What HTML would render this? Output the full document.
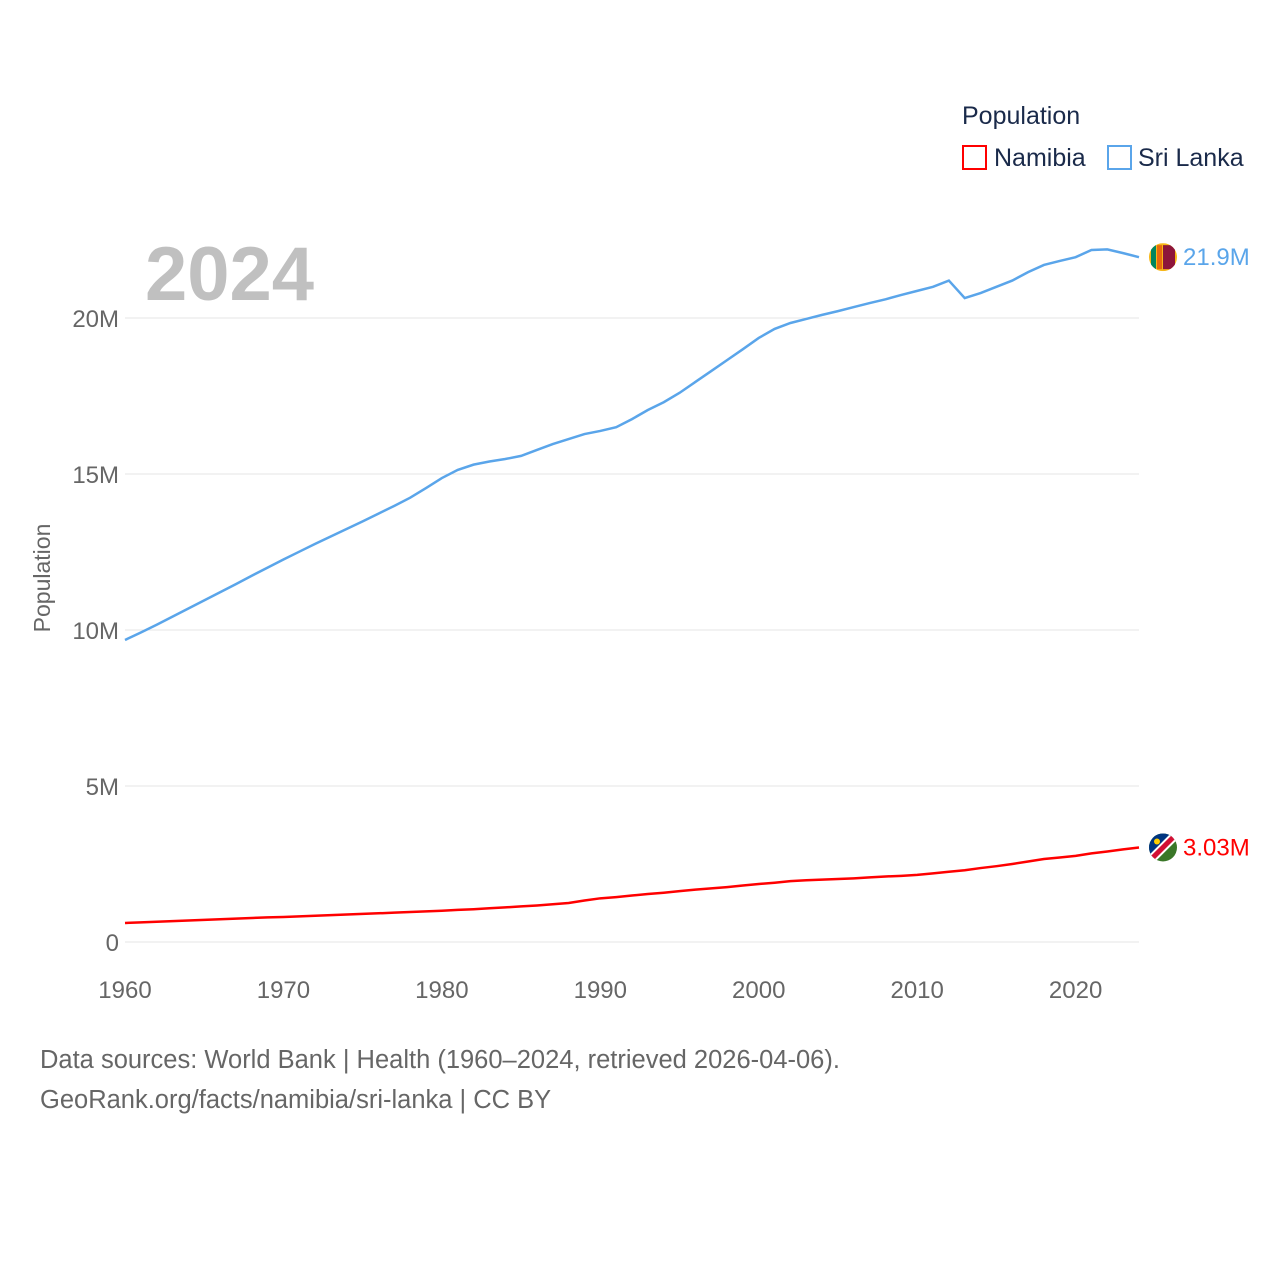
<!DOCTYPE html>
<html><head><meta charset="utf-8"><style>
body{margin:0;background:#fff;font-family:"Liberation Sans",sans-serif}
svg text{font-family:"Liberation Sans",sans-serif}
</style></head><body>
<svg id="c" width="1280" height="1280">
<g id="grid"></g>
<text x="145" y="300" font-size="76" font-weight="bold" fill="#c0c0c0">2024</text>
<text transform="translate(50,578) rotate(-90)" text-anchor="middle" font-size="23" fill="#666">Population</text>
<g>
<text x="962" y="124" font-size="25" fill="#1a2a4a">Population</text>
<g><rect x="963" y="146" width="23" height="23" fill="none" stroke="#f00" stroke-width="2"/><text x="994" y="166" font-size="25" fill="#1a2a4a">Namibia</text></g>
<g><rect x="1108" y="146" width="23" height="23" fill="none" stroke="#5aa5ea" stroke-width="2"/><text x="1138" y="166" font-size="25" fill="#1a2a4a">Sri Lanka</text></g>
</g>
<g id="series"></g>
<text x="40" y="1068" font-size="25.5" fill="#666">Data sources: World Bank | Health (1960–2024, retrieved 2026-04-06).</text>
<text x="40" y="1108" font-size="25.5" fill="#666">GeoRank.org/facts/namibia/sri-lanka | CC BY</text>
</svg>
<script>
const years=[];for(let y=1960;y<=2024;y++)years.push(y);
const sriLanka=[9.68,9.92,10.17,10.43,10.69,10.95,11.21,11.47,11.74,12.0,12.26,12.51,12.76,13.0,13.24,13.48,13.73,13.98,14.24,14.55,14.87,15.13,15.3,15.4,15.48,15.58,15.77,15.96,16.12,16.28,16.38,16.5,16.76,17.05,17.3,17.6,17.95,18.3,18.65,19.0,19.36,19.65,19.84,19.97,20.1,20.22,20.35,20.48,20.6,20.74,20.87,21.0,21.2,20.64,20.8,21.0,21.2,21.47,21.7,21.83,21.95,22.18,22.2,22.08,21.95];
const namibia=[0.61,0.63,0.65,0.67,0.69,0.71,0.73,0.75,0.77,0.79,0.8,0.82,0.84,0.86,0.88,0.9,0.92,0.94,0.96,0.98,1.0,1.03,1.05,1.08,1.11,1.14,1.17,1.21,1.25,1.33,1.4,1.44,1.49,1.54,1.58,1.63,1.68,1.72,1.76,1.81,1.86,1.9,1.95,1.98,2.0,2.02,2.04,2.07,2.1,2.12,2.15,2.2,2.25,2.3,2.37,2.43,2.5,2.58,2.66,2.71,2.76,2.84,2.9,2.97,3.03];
const yTicks=[0,5,10,15,20];const yTickLabels=["0","5M","10M","15M","20M"];
const xTicks=[1960,1970,1980,1990,2000,2010,2020];
const X=y=>125+(y-1960)*(1139-125)/64, Y=v=>942-v*31.2;
const ns="http://www.w3.org/2000/svg",g=document.getElementById('grid'),s=document.getElementById('series');
function mk(p,t,a){const e=document.createElementNS(ns,t);for(const k in a)e.setAttribute(k,a[k]);p.appendChild(e);return e;}
yTicks.forEach((v,i)=>{const l=mk(g,'line',{x1:125,x2:1139,y1:Y(v),y2:Y(v),stroke:'#e6e6e6'});


const t=mk(g,'text',{x:119,y:Y(v)+9,'text-anchor':'end','font-size':24,fill:'#666'});t.textContent=yTickLabels[i];

});
xTicks.forEach(v=>{const t=mk(g,'text',{x:X(v),y:998,'text-anchor':'middle','font-size':24,fill:'#666'});t.textContent=v;

});
function line(data,col,name,label,flag){
const p=mk(s,'polyline',{points:data.map((v,i)=>X(years[i])+','+Y(v)).join(' '),fill:'none',stroke:col,'stroke-width':2.5});


const ly=Y(data[data.length-1]);
const f=mk(s,'g',{});f.innerHTML=flag(1163,ly);


const t=mk(s,'text',{x:1183,y:ly+8,'font-size':24,fill:col});t.textContent=label;

}
line(sriLanka,'#5aa5ea','sri-lanka','21.9M',(x,y)=>`<clipPath id="cl1"><circle cx="${x}" cy="${y}" r="14"/></clipPath><g clip-path="url(#cl1)"><rect x="${x-14}" y="${y-14}" width="28" height="28" fill="#f7b718"/><rect x="${x-12}" y="${y-12}" width="5" height="24" fill="#00855f"/><rect x="${x-6}" y="${y-12}" width="5" height="24" fill="#e86a0e"/><rect x="${x}" y="${y-12}" width="12" height="24" fill="#8d153a"/></g>`);
line(namibia,'#f00','namibia','3.03M',(x,y)=>`<clipPath id="cl2"><circle cx="${x}" cy="${y}" r="14"/></clipPath><g clip-path="url(#cl2)"><rect x="${x-14}" y="${y-14}" width="28" height="28" fill="#3a7728"/><polygon points="${x-14},${y-14} ${x+14},${y-14} ${x-14},${y+14}" fill="#003580"/><line x1="${x-14}" y1="${y+14}" x2="${x+14}" y2="${y-14}" stroke="#fff" stroke-width="9"/><line x1="${x-14}" y1="${y+14}" x2="${x+14}" y2="${y-14}" stroke="#d21034" stroke-width="5"/><circle cx="${x-6}" cy="${y-6}" r="3" fill="#ffce00"/></g>`);
</script>
</body></html>
